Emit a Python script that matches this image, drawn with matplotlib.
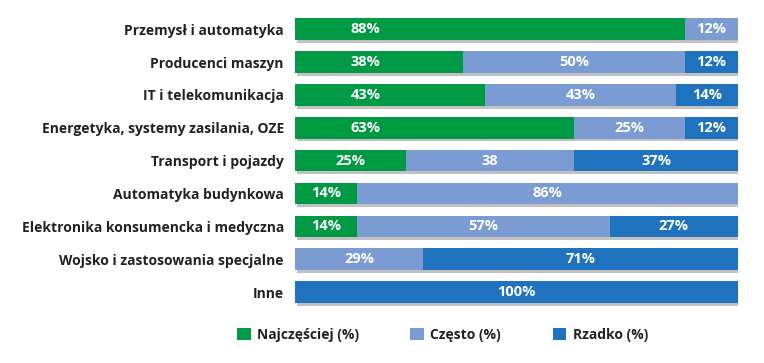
import matplotlib
matplotlib.use("Agg")
import matplotlib.pyplot as plt
import matplotlib.patheffects as pe
from matplotlib.patches import Patch

categories = ["Przemysł i automatyka", "Producenci maszyn", "IT i telekomunikacja",
              "Energetyka, systemy zasilania, OZE", "Transport i pojazdy",
              "Automatyka budynkowa", "Elektronika konsumencka i medyczna",
              "Wojsko i zastosowania specjalne", "Inne"]
najczesciej = [88, 38, 43, 63, 25, 14, 14, 0, 0]
czesto = [12, 50, 43, 25, 38, 86, 57, 29, 0]
rzadko = [0, 12, 14, 12, 37, 0, 27, 71, 100]
czesto_labels = ["12%", "50%", "43%", "25%", "38", "86%", "57%", "29%", ""]
series_names = ["Najczęściej (%)", "Często (%)", "Rzadko (%)"]

GREEN = "#009a44"
LIGHT = "#7a9cd3"
DARK = "#1f72bd"

plt.rcParams['font.family'] = ['Open Sans', 'DejaVu Sans']

fig = plt.figure(figsize=(7.64, 3.63), dpi=100)
ax = fig.add_axes([0.386, 0.150, 0.580, 0.815])

n = len(categories)
ys = list(range(n))
shadow = [pe.SimplePatchShadow(offset=(1.5, -2), shadow_rgbFace="#8f8f8f", alpha=0.55), pe.Normal()]
h = 0.66
for i in range(n):
    y = ys[i]
    left = 0
    segs = [(najczesciej[i], GREEN, f"{najczesciej[i]}%"),
            (czesto[i], LIGHT, czesto_labels[i]),
            (rzadko[i], DARK, f"{rzadko[i]}%")]
    nonzero = [k for k, s in enumerate(segs) if s[0] > 0]
    for k, (v, c, lab) in enumerate(segs):
        if v <= 0:
            continue
        w = v
        if k == nonzero[-1]:
            w = 100 - left
        b = ax.barh(y, w, left=left, height=h, color=c, edgecolor='none')
        for p in b.patches:
            p.set_path_effects(shadow)
        if k == 0:
            xc = min(left + w / 2, 16)
        else:
            xc = left + w / 2
        ax.text(xc, y, lab, ha='center', va='center', color='white',
                fontsize=10.5, fontweight='bold')
        left += w

ax.set_xlim(0, 100)
ax.set_ylim(n - 0.5, -0.5)
ax.set_yticks(ys)
ax.set_yticklabels(categories, fontsize=10, fontweight='bold', color='#222222')
ax.tick_params(axis='y', length=0, pad=8)
ax.set_xticks([])
for s in ax.spines.values():
    s.set_visible(False)

handles = [Patch(facecolor=GREEN, label=series_names[0]),
           Patch(facecolor=LIGHT, label=series_names[1]),
           Patch(facecolor=DARK, label=series_names[2])]
leg = fig.legend(handles=handles, loc='center', bbox_to_anchor=(0.579, 0.078), ncol=3,
                 frameon=False, handlelength=1.0, handleheight=1.0, columnspacing=3.7,
                 handletextpad=0.45, prop={'size': 10, 'weight': 'bold'})
for t in leg.get_texts():
    t.set_color('#222222')

fig.savefig("out.png", dpi=100)
